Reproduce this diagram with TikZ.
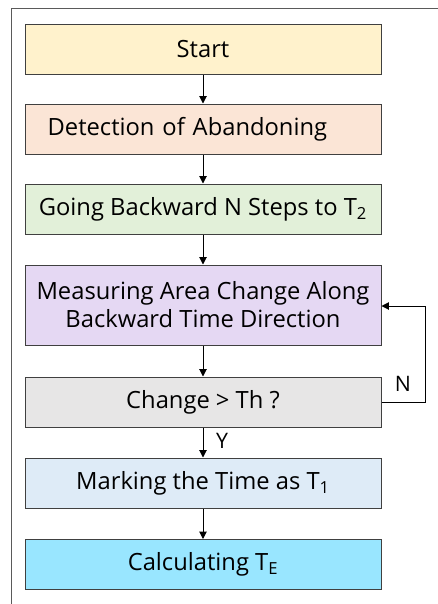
\documentclass[tikz,border=0pt]{standalone}
\usepackage{fontspec}
\setmainfont{Open Sans}
\usetikzlibrary{arrows.meta}
\definecolor{cstart}{HTML}{FFF2CC}
\definecolor{cdet}{HTML}{FBE5D6}
\definecolor{cgo}{HTML}{E2F0D9}
\definecolor{cmeas}{HTML}{E5D8F3}
\definecolor{cchg}{HTML}{E7E6E6}
\definecolor{cmark}{HTML}{DEEBF7}
\definecolor{ccalc}{HTML}{99E6FF}
\definecolor{cline}{HTML}{404040}
\definecolor{cframe}{HTML}{5A5A5A}
\tikzset{
  box/.style={draw=cline, line width=0.75pt, minimum width=267pt, minimum height=37.5pt, inner sep=0pt, font=\fontsize{17.8}{21}\selectfont, align=center},
  arr/.style={draw=black, line width=0.75pt, -{Triangle[length=5.5pt,width=5.5pt]}},
  lbl/.style={font=\fontsize{16}{19}\selectfont, inner sep=0pt}
}
\begin{document}
\begin{tikzpicture}[x=0.75pt,y=-0.75pt]
\useasboundingbox (0,0) rectangle (438,604);
\draw[cframe, line width=0.75pt] (11,604) -- (11,8) -- (438,8);
\node[box, fill=cstart] (start) at (203,49) {Start};
\node[box, fill=cdet, align=left, text width=233pt] (det) at (203,129) {Detection of Abandoning};
\node[box, fill=cgo] (go) at (203,209) {Going Backward N Steps to T\textsubscript{2}};
\node[box, fill=cmeas, minimum height=60pt] (meas) at (203,305) {Measuring Area Change Along\\Backward Time Direction};
\node[box, fill=cchg] (chg) at (203,402) {Change > Th ?};
\node[box, fill=cmark] (mark) at (203,483) {Marking the Time as T\textsubscript{1}};
\node[box, fill=ccalc] (calc) at (203,564.5) {Calculating T\textsubscript{E}};
\coordinate (lp1) at (425,402);
\coordinate (lp2) at (425,306);
\draw[arr] (start) -- (det);
\draw[arr] (det) -- (go);
\draw[arr] (go) -- (meas);
\draw[arr] (meas) -- (chg);
\draw[arr] (chg) -- (mark);
\draw[arr] (mark) -- (calc);
\draw[arr] (chg.east) -- (lp1) -- (lp2) -- (meas.east |- lp2);
\node[lbl] (n) at (403,384) {N};
\node[lbl] (y) at (222,441) {Y};
\end{tikzpicture}
\end{document}
